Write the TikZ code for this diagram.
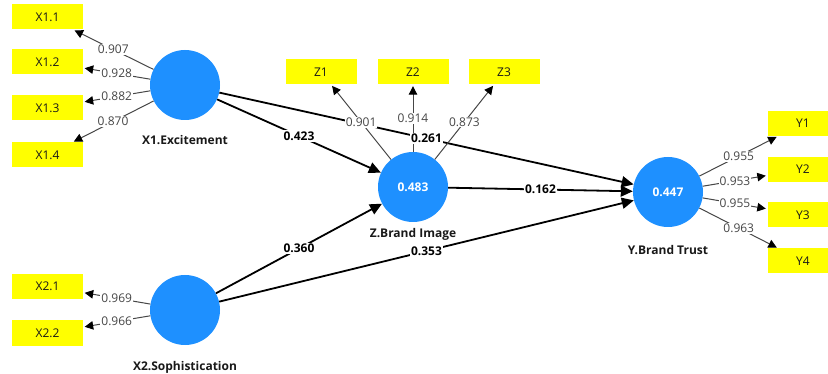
\documentclass[tikz,border=0pt]{standalone}
\usepackage{fontspec}
\setmainfont{Open Sans}
\usetikzlibrary{arrows.meta}
\definecolor{lvblue}{RGB}{30,144,255}
\definecolor{indyellow}{RGB}{255,255,0}
\definecolor{ldgray}{RGB}{70,70,70}
\definecolor{inktext}{RGB}{25,25,25}

\begin{document}
\begin{tikzpicture}[x=1pt,y=-1pt,
  font=\fontsize{12}{14}\selectfont,
  latent/.style={circle, fill=lvblue, minimum size=70pt, inner sep=0pt,
    text=white, font=\fontsize{12}{14}\selectfont\bfseries},
  indicator/.style={fill=indyellow, minimum width=71pt, minimum height=25pt,
    inner sep=0pt, text=inktext},
  loadline/.style={draw=ldgray, line width=1pt,
    -{Triangle[length=8.5pt,width=8.5pt,color=black]}, shorten >=1.5pt},
  pathline/.style={draw=black, line width=1.8pt,
    -{Triangle[length=12pt,width=11pt]}},
  lval/.style={fill=white, inner sep=1pt, text=ldgray},
  pval/.style={fill=white, inner sep=1.5pt, text=black,
    font=\fontsize{12}{14}\selectfont\bfseries},
  lvname/.style={text=inktext, font=\fontsize{12}{14}\selectfont\bfseries}]

\useasboundingbox (0,0) rectangle (828,374);

% latent variables
\node[latent] (X1) at (185,85) {};
\node[latent] (X2) at (185,310) {};
\node[latent] (Z)  at (413,187) {0.483};
\node[latent] (Y)  at (668,192) {0.447};

\node[lvname] (nX1) at (185,140) {X1.Excitement};
\node[lvname] (nX2) at (185,367) {X2.Sophistication};
\node[lvname] (nZ)  at (413,234) {Z.Brand Image};
\node[lvname] (nY)  at (668,250) {Y.Brand Trust};

% indicators
\node[indicator] (X11) at (47.5,17)  {X1.1};
\node[indicator] (X12) at (47.5,62)  {X1.2};
\node[indicator] (X13) at (47.5,108) {X1.3};
\node[indicator] (X14) at (47.5,155) {X1.4};
\node[indicator] (X21) at (47.5,286.5) {X2.1};
\node[indicator] (X22) at (47.5,333) {X2.2};
\node[indicator] (Z1) at (321,72) {Z1};
\node[indicator] (Z2) at (413,72) {Z2};
\node[indicator] (Z3) at (504,72) {Z3};
\node[indicator] (Y1) at (803,123.5) {Y1};
\node[indicator] (Y2) at (803,169.5) {Y2};
\node[indicator] (Y3) at (803,215) {Y3};
\node[indicator] (Y4) at (803,261) {Y4};

% structural paths
\draw[pathline] (X1) -- (Z);
\draw[pathline] (X1) -- (Y);
\draw[pathline] (X2) -- (Z);
\draw[pathline] (X2) -- (Y);
\draw[pathline] (Z) -- (Y);

% outer loadings
\foreach \lv/\ind in {X1/X11,X1/X12,X1/X13,X1/X14,X2/X21,X2/X22,
                      Z/Z1,Z/Z2,Z/Z3,Y/Y1,Y/Y2,Y/Y3,Y/Y4}
  \draw[loadline] (\lv) -- (\ind);

% loading values
\foreach \lv/\ind/\val in {X1/X11/0.907,X1/X12/0.928,X1/X13/0.882,X1/X14/0.870,
    X2/X21/0.969,X2/X22/0.966,Z/Z1/0.901,Z/Z2/0.914,Z/Z3/0.873,
    Y/Y1/0.955,Y/Y2/0.953,Y/Y3/0.955,Y/Y4/0.963}
  \path (\lv) -- (\ind) node[lval, midway] {\val};

% path coefficients
\path (X1) -- (Z) node[pval, midway] {0.423};
\path (X1) -- (Y) node[pval, midway] {0.261};
\path (X2) -- (Z) node[pval, midway] {0.360};
\path (X2) -- (Y) node[pval, midway] {0.353};
\path (Z) -- (Y) node[pval, midway] {0.162};
\end{tikzpicture}
\end{document}
